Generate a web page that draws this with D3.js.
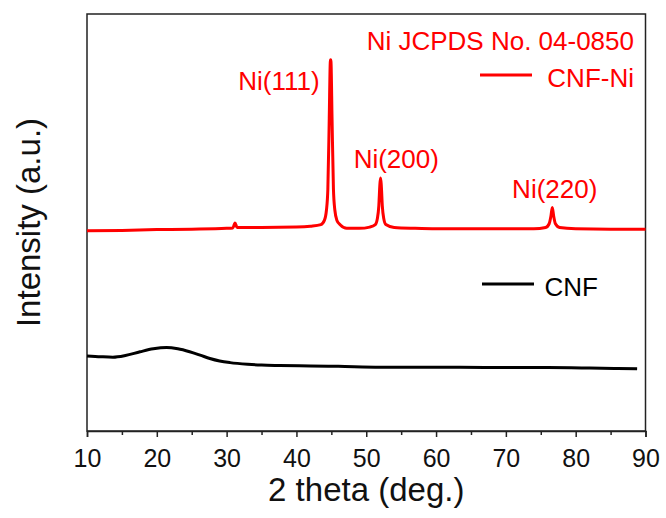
<!DOCTYPE html>
<html>
<head>
<meta charset="utf-8">
<script src="https://cdn.jsdelivr.net/npm/d3@7"></script>
<style>
  body { margin: 0; background: #fff; }
  text { font-family: "Liberation Sans", Arial, sans-serif; }
</style>
</head>
<body>
<script>
const width = 666;
const height = 518;

// 2 theta (deg.) vs intensity (a.u.)
const cnfNi = [
    [10, 480], [15, 481], [20, 483], [25, 484], [30, 486],
    [30.9, 487], [31.2, 499], [31.5, 488], [35, 488], [40, 489],
    [42, 491], [43.5, 495], [44.0, 505], [44.3, 530], [44.5, 580],
    [44.7, 750], [44.85, 885], [44.9, 890], [44.95, 885], [45.1, 750],
    [45.3, 580], [45.5, 530], [45.8, 505], [46.3, 494], [47.2, 486],
    [49, 486], [50.5, 489], [51.3, 495], [51.6, 510], [51.8, 540],
    [51.95, 590], [52.05, 607], [52.15, 590], [52.3, 540], [52.5, 510],
    [52.8, 495], [54, 488], [57, 486], [60, 485], [65, 485],
    [70, 485], [74, 485], [75.7, 488], [76.2, 497], [76.45, 515],
    [76.65, 536], [76.85, 515], [77.1, 497], [77.7, 488], [80, 485],
    [85, 484], [90, 484]
];

const cnf = [
    [10, 180], [12, 178], [13.7, 177], [15.5, 181], [17.6, 190],
    [19.5, 197], [21.4, 200], [23, 197], [24.7, 190], [26.2, 182],
    [27.6, 174], [29, 168], [30.5, 164], [33, 160], [35, 158],
    [37.6, 157], [42, 156], [46, 155], [52, 153], [58, 153],
    [63.4, 153], [70, 152], [76, 152], [82, 151], [86, 150], [88.8, 149]
];

const majorTicks = [10, 20, 30, 40, 50, 60, 70, 80, 90];
const minorTicks = [15, 25, 35, 45, 55, 65, 75, 85];

const peakLabels = [
    { label: "Ni(111)", x: 37.5, y: 818 },
    { label: "Ni(200)", x: 54.3, y: 631 },
    { label: "Ni(220)", x: 77.0, y: 559 }
];

const margin = { top: 14, right: 20, bottom: 87, left: 87 };

const svg = d3.select("body")
    .append("svg")
    .attr("width", width)
    .attr("height", height);

const x = d3.scaleLinear()
    .domain([10, 90])
    .range([margin.left, width - margin.right - 0.5]);

const y = d3.scaleLinear()
    .domain([0, 1000])
    .range([height - margin.bottom, margin.top]);

const line = d3.line()
    .x((d) => x(d[0]))
    .y((d) => y(d[1]))
    .curve(d3.curveMonotoneX);

// frame
svg.append("rect")
    .attr("x", x(10))
    .attr("y", y(1000))
    .attr("width", x(90) - x(10))
    .attr("height", y(0) - y(1000))
    .attr("fill", "none")
    .attr("stroke", "#222")
    .attr("stroke-width", 1.5);

// x axis
const xAxis = svg.append("g")
    .attr("transform", `translate(0, ${y(0)})`)
    .call(d3.axisBottom(x)
        .tickValues(majorTicks)
        .tickSize(6)
        .tickPadding(12)
        .tickFormat(d3.format("d")));

xAxis.select(".domain").attr("stroke", "#222").attr("stroke-width", 1.5);
xAxis.selectAll(".tick line").attr("stroke", "#222").attr("stroke-width", 1.5);
xAxis.selectAll(".tick text")
    .attr("font-size", 25)
    .attr("font-family", "Liberation Sans, Arial, sans-serif")
    .attr("fill", "#111");

const xMinor = svg.append("g")
    .attr("transform", `translate(0, ${y(0)})`)
    .call(d3.axisBottom(x)
        .tickValues(minorTicks)
        .tickSize(4)
        .tickFormat(""));
xMinor.select(".domain").remove();
xMinor.selectAll(".tick line").attr("stroke", "#222").attr("stroke-width", 1.5);

// curves
svg.append("path")
    .datum(cnf)
    .attr("fill", "none")
    .attr("stroke", "#000")
    .attr("stroke-width", 3)
    .attr("stroke-linejoin", "round")
    .attr("d", line);

svg.append("path")
    .datum(cnfNi)
    .attr("fill", "none")
    .attr("stroke", "#ff0000")
    .attr("stroke-width", 3)
    .attr("stroke-linejoin", "round")
    .attr("d", line);

// peak labels
svg.selectAll(".peak-label")
    .data(peakLabels)
    .enter()
    .append("text")
    .attr("class", "peak-label")
    .attr("x", (d) => x(d.x))
    .attr("y", (d) => y(d.y))
    .attr("text-anchor", "middle")
    .attr("font-size", 26)
    .attr("fill", "#ff0000")
    .text((d) => d.label);

// reference card + legend
svg.append("text")
    .attr("x", 634)
    .attr("y", 50)
    .attr("text-anchor", "end")
    .attr("font-size", 26)
    .attr("fill", "#ff0000")
    .text("Ni JCPDS No. 04-0850");

const legend = [
    { label: "CNF-Ni", color: "#ff0000", y: 75, tx: 634 },
    { label: "CNF", color: "#000", y: 284, tx: 598 }
];

legend.forEach((d) => {
    svg.append("line")
        .attr("x1", d.tx - (d.label === "CNF" ? 116 : 154))
        .attr("x2", d.tx - (d.label === "CNF" ? 64 : 102))
        .attr("y1", d.y)
        .attr("y2", d.y)
        .attr("stroke", d.color)
        .attr("stroke-width", 3);
    svg.append("text")
        .attr("x", d.tx)
        .attr("y", d.y + 12)
        .attr("text-anchor", "end")
        .attr("font-size", 26)
        .attr("fill", d.color)
        .text(d.label);
});

// axis titles
svg.append("text")
    .attr("x", (x(10) + x(90)) / 2)
    .attr("y", 501)
    .attr("text-anchor", "middle")
    .attr("font-size", 33)
    .attr("fill", "#111")
    .text("2 theta (deg.)");

svg.append("text")
    .attr("transform", `translate(40, ${(y(0) + y(1000)) / 2}) rotate(-90)`)
    .attr("text-anchor", "middle")
    .attr("font-size", 33)
    .attr("fill", "#111")
    .text("Intensity (a.u.)");
</script>
</body>
</html>
